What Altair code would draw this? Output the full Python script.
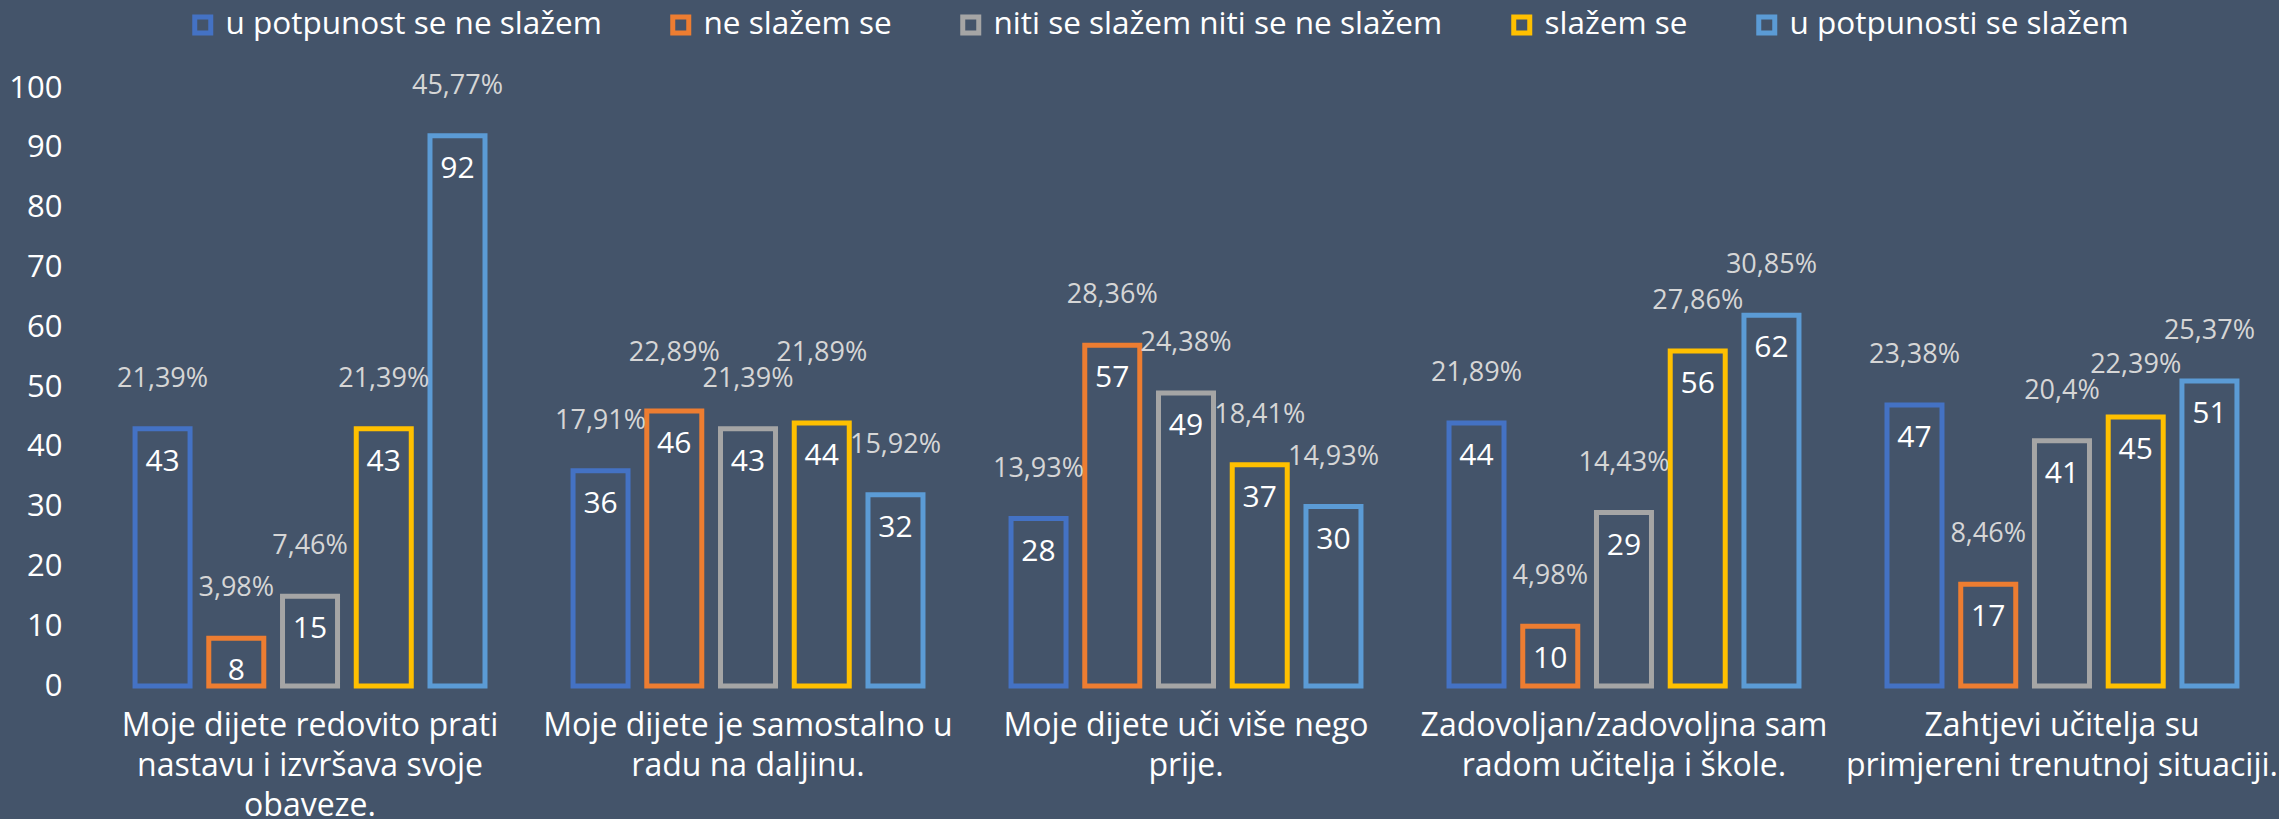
import altair as alt
import pandas as pd

# ---- data ----
category_lines = [
    ["Moje dijete redovito prati", "nastavu i izvršava svoje", "obaveze."],
    ["Moje dijete je samostalno u", "radu na daljinu."],
    ["Moje dijete uči više nego", "prije."],
    ["Zadovoljan/zadovoljna sam", "radom učitelja i škole."],
    ["Zahtjevi učitelja su", "primjereni trenutnoj situaciji."],
]
series = [
    "u potpunost se ne slažem",
    "ne slažem se",
    "niti se slažem niti se ne slažem",
    "slažem se",
    "u potpunosti se slažem",
]
counts_1 = [43, 36, 28, 44, 47]
counts_2 = [8, 46, 57, 10, 17]
counts_3 = [15, 43, 49, 29, 41]
counts_4 = [43, 44, 37, 56, 45]
counts_5 = [92, 32, 30, 62, 51]
pct_1 = [21.39, 17.91, 13.93, 21.89, 23.38]
pct_2 = [3.98, 22.89, 28.36, 4.98, 8.46]
pct_3 = [7.46, 21.39, 24.38, 14.43, 20.4]
pct_4 = [21.39, 21.89, 18.41, 27.86, 22.39]
pct_5 = [45.77, 15.92, 14.93, 30.85, 25.37]
colors = ["#4472C4", "#ED7D31", "#A5A5A5", "#FFC000", "#5B9BD5"]

counts = [counts_1, counts_2, counts_3, counts_4, counts_5]
pcts = [pct_1, pct_2, pct_3, pct_4, pct_5]

# ---- layout ----
W, H = 2186, 598
BG = "#44546A"
FONT = "Open Sans"
PPU = H / 100.0          # pixels per unit
LABEL_GAP = 50           # px from bar top to percent label centre
LABEL_H = 26             # min vertical separation for neighbouring labels

categories = ["|".join(l) for l in category_lines]

rows = []
for ci, cat in enumerate(categories):
    vals = [counts[si][ci] for si in range(5)]
    ys = [v * PPU + LABEL_GAP for v in vals]
    for i in range(4):
        if abs(ys[i] - ys[i + 1]) < LABEL_H:
            if ys[i] >= ys[i + 1]:
                ys[i] = ys[i + 1] + LABEL_H
            else:
                ys[i + 1] = ys[i] + LABEL_H
    for si in range(5):
        p = pcts[si][ci]
        rows.append({
            "cat": cat,
            "series": series[si],
            "value": vals[si],
            "pct": f"{p:g}".replace(".", ",") + "%",
            "labpos": vals[si] + (ys[si] - vals[si] * PPU - LABEL_GAP) / PPU,
        })
df = pd.DataFrame(rows)

x_enc = alt.X("cat:N", sort=categories,
              scale=alt.Scale(paddingInner=0.201, paddingOuter=0.096),
              axis=alt.Axis(title=None, labelExpr="split(datum.label, '|')",
                            labelAngle=0, labelFontSize=32, labelLineHeight=40,
                            labelBaseline="top", labelPadding=24, ticks=False,
                            domain=False, labelColor="#FFFFFF", labelLimit=0,
                            labelFont=FONT))
xo_enc = alt.XOffset("series:N", sort=series,
                     scale=alt.Scale(paddingInner=0.254, paddingOuter=0))
y_scale = alt.Scale(domain=[0, 100], nice=False)

bars = alt.Chart(df).mark_bar(filled=False, strokeWidth=5).encode(
    x=x_enc,
    xOffset=xo_enc,
    y=alt.Y("value:Q", scale=y_scale,
            axis=alt.Axis(title=None, values=list(range(0, 101, 10)),
                          grid=False, ticks=False, domain=False,
                          labelFontSize=31, labelColor="#FFFFFF",
                          labelPadding=31, labelFont=FONT)),
    color=alt.Color("series:N", sort=series,
                    scale=alt.Scale(domain=series, range=colors),
                    legend=alt.Legend(title=None, orient="none", direction="horizontal",
                                      legendX=94, legendY=-79, symbolType="square",
                                      symbolSize=256, symbolStrokeWidth=5,
                                      labelFontSize=31.5, labelColor="#FFFFFF",
                                      labelFont=FONT, columnPadding=60,
                                      labelOffset=7, padding=0, labelLimit=0)),
)

values_text = alt.Chart(df).mark_text(
    color="#FFFFFF", fontSize=30, baseline="middle", dy=33, font=FONT
).encode(x=alt.X("cat:N", sort=categories), xOffset=alt.XOffset("series:N", sort=series),
         y=alt.Y("value:Q", scale=y_scale), text="value:Q")

pct_text = alt.Chart(df).mark_text(
    color="#D6D6D6", fontSize=27, baseline="middle", dy=-LABEL_GAP, font=FONT
).encode(x=alt.X("cat:N", sort=categories), xOffset=alt.XOffset("series:N", sort=series),
         y=alt.Y("labpos:Q", scale=y_scale), text="pct:N")

chart = alt.layer(bars, values_text, pct_text).properties(
    width=W, height=H,
    autosize=alt.AutoSizeParams(type="none"),
    padding={"left": 93, "top": 88, "right": 0, "bottom": 133},
    background=BG,
).configure_view(stroke=None)

chart.save("out.html", embed_options={"renderer": "svg", "actions": False})
